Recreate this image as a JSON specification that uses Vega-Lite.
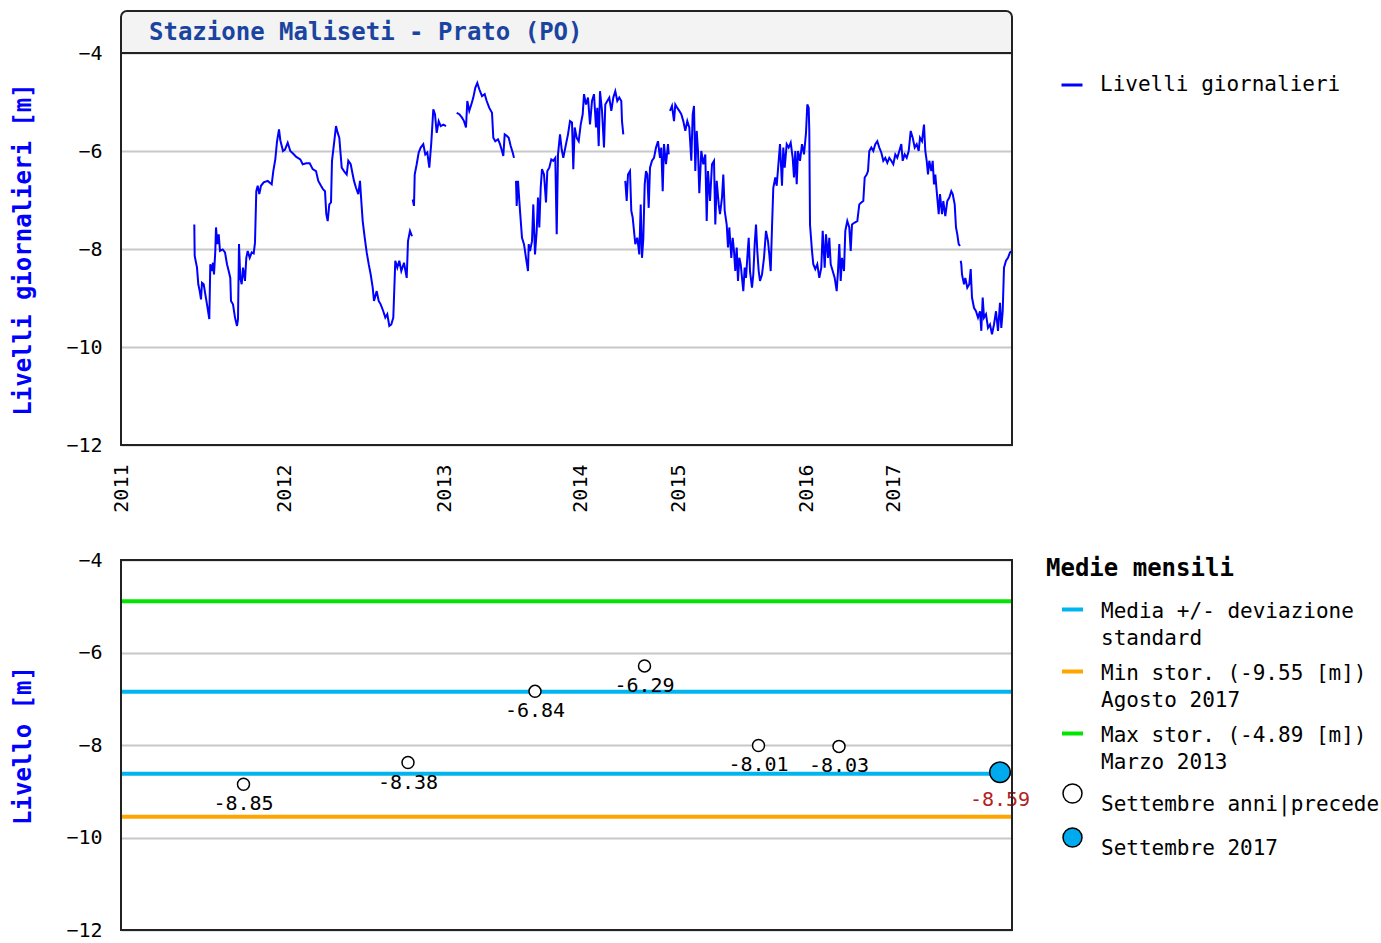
{
  "$schema": "https://vega.github.io/schema/vega-lite/v6.json",
  "background": "white",
  "padding": {"left": 11, "top": 10, "right": 5, "bottom": 5},
  "spacing": 37,
  "config": {"view": {"stroke": null}, "font": "DejaVu Sans Mono"},
  "resolve": {"scale": {"x": "independent", "y": "independent", "color": "independent", "fill": "independent"}, "legend": {"color": "independent", "fill": "independent"}},
  "datasets": {
    "serie": [
      {"i":73.3,"v":-7.5,"s":1},{"i":73.7,"v":-8.14,"s":1},{"i":76,"v":-8.38,"s":1},{"i":77.3,"v":-8.72,"s":1},{"i":78.7,"v":-8.86,"s":1},{"i":80,"v":-9.03,"s":1},{"i":81,"v":-8.69,"s":1},{"i":82.7,"v":-8.72,"s":1},{"i":84.3,"v":-8.92,"s":1},{"i":86,"v":-9.13,"s":1},{"i":88.3,"v":-9.43,"s":1},{"i":89.3,"v":-8.31,"s":1},{"i":90.7,"v":-8.45,"s":1},{"i":92,"v":-8.28,"s":1},{"i":93,"v":-8.52,"s":1},{"i":94.3,"v":-8.04,"s":1},{"i":95,"v":-7.56,"s":1},{"i":96.3,"v":-7.9,"s":1},{"i":97.7,"v":-7.7,"s":1},{"i":99,"v":-8.04,"s":1},{"i":101.7,"v":-8.01,"s":1},{"i":104,"v":-8.07,"s":1},{"i":106,"v":-8.31,"s":1},{"i":107.7,"v":-8.45,"s":1},{"i":109.3,"v":-8.59,"s":1},{"i":110,"v":-9.06,"s":1},{"i":112,"v":-9.13,"s":1},{"i":114,"v":-9.4,"s":1},{"i":116,"v":-9.57,"s":1},{"i":117,"v":-9.43,"s":1},{"i":118,"v":-7.9,"s":1},{"i":119.3,"v":-8.59,"s":1},{"i":120.7,"v":-8.72,"s":1},{"i":122,"v":-8.38,"s":1},{"i":124,"v":-8.65,"s":1},{"i":125.3,"v":-8.18,"s":1},{"i":126.7,"v":-8.04,"s":1},{"i":128.7,"v":-8.18,"s":1},{"i":130.7,"v":-8.07,"s":1},{"i":132.7,"v":-8.09,"s":1},{"i":134,"v":-7.87,"s":1},{"i":135.3,"v":-6.82,"s":1},{"i":136.7,"v":-6.71,"s":1},{"i":138.3,"v":-6.88,"s":1},{"i":140,"v":-6.71,"s":1},{"i":142.7,"v":-6.64,"s":1},{"i":146.7,"v":-6.61,"s":1},{"i":150.7,"v":-6.68,"s":1},{"i":152.3,"v":-6.41,"s":1},{"i":154.3,"v":-6.17,"s":1},{"i":156,"v":-5.81,"s":1},{"i":158,"v":-5.56,"s":1},{"i":159.3,"v":-5.78,"s":1},{"i":162,"v":-6.0,"s":1},{"i":164,"v":-5.97,"s":1},{"i":166.7,"v":-5.83,"s":1},{"i":169.3,"v":-6.0,"s":1},{"i":172,"v":-6.05,"s":1},{"i":175.3,"v":-6.12,"s":1},{"i":179.3,"v":-6.17,"s":1},{"i":181.7,"v":-6.27,"s":1},{"i":185.3,"v":-6.25,"s":1},{"i":188.7,"v":-6.25,"s":1},{"i":191.7,"v":-6.37,"s":1},{"i":195,"v":-6.41,"s":1},{"i":197.3,"v":-6.61,"s":1},{"i":200,"v":-6.71,"s":1},{"i":202,"v":-6.78,"s":1},{"i":204,"v":-6.82,"s":1},{"i":205.3,"v":-7.29,"s":1},{"i":206.7,"v":-7.43,"s":1},{"i":208.3,"v":-7.09,"s":1},{"i":210,"v":-7.05,"s":1},{"i":211,"v":-6.2,"s":1},{"i":213.3,"v":-5.8,"s":1},{"i":215,"v":-5.49,"s":1},{"i":216.7,"v":-5.63,"s":1},{"i":218.3,"v":-5.73,"s":1},{"i":220.7,"v":-6.34,"s":1},{"i":223,"v":-6.41,"s":1},{"i":225.7,"v":-6.48,"s":1},{"i":227.3,"v":-6.2,"s":1},{"i":229.7,"v":-6.27,"s":1},{"i":231.7,"v":-6.48,"s":1},{"i":233,"v":-6.61,"s":1},{"i":235,"v":-6.75,"s":1},{"i":237.3,"v":-6.88,"s":1},{"i":239,"v":-6.61,"s":1},{"i":240.3,"v":-7.02,"s":1},{"i":241.7,"v":-7.43,"s":1},{"i":243.7,"v":-7.77,"s":1},{"i":245.7,"v":-8.07,"s":1},{"i":247.7,"v":-8.31,"s":1},{"i":249.7,"v":-8.52,"s":1},{"i":251.7,"v":-8.79,"s":1},{"i":253,"v":-9.06,"s":1},{"i":255.7,"v":-8.86,"s":1},{"i":257.7,"v":-9.06,"s":1},{"i":259.7,"v":-9.13,"s":1},{"i":262.3,"v":-9.27,"s":1},{"i":264.3,"v":-9.4,"s":1},{"i":266.3,"v":-9.33,"s":1},{"i":268.3,"v":-9.57,"s":1},{"i":270.3,"v":-9.54,"s":1},{"i":272.3,"v":-9.4,"s":1},{"i":274.3,"v":-8.24,"s":1},{"i":276.3,"v":-8.38,"s":1},{"i":278.3,"v":-8.24,"s":1},{"i":280.3,"v":-8.45,"s":1},{"i":283,"v":-8.28,"s":1},{"i":285.7,"v":-8.59,"s":1},{"i":287,"v":-7.84,"s":1},{"i":289,"v":-7.63,"s":1},{"i":291,"v":-7.74,"s":1},
      {"i":291.7,"v":-6.99,"s":2},{"i":293,"v":-7.12,"s":2},{"i":293.7,"v":-6.48,"s":2},{"i":295.7,"v":-6.27,"s":2},{"i":297.7,"v":-6.03,"s":2},{"i":299.7,"v":-5.93,"s":2},{"i":302.3,"v":-5.86,"s":2},{"i":304.3,"v":-6.07,"s":2},{"i":306.3,"v":-6.03,"s":2},{"i":308.3,"v":-6.34,"s":2},{"i":310.3,"v":-5.83,"s":2},{"i":312.3,"v":-5.15,"s":2},{"i":314,"v":-5.25,"s":2},{"i":315.7,"v":-5.63,"s":2},{"i":317.7,"v":-5.39,"s":2},{"i":319.7,"v":-5.49,"s":2},{"i":322.3,"v":-5.46,"s":2},{"i":325,"v":-5.49,"s":2},
      {"i":335.7,"v":-5.22,"s":3},{"i":338.3,"v":-5.25,"s":3},{"i":341,"v":-5.32,"s":3},{"i":343,"v":-5.39,"s":3},{"i":345,"v":-5.52,"s":3},{"i":346.3,"v":-4.98,"s":3},{"i":348.3,"v":-5.18,"s":3},{"i":350.3,"v":-5.05,"s":3},{"i":352.3,"v":-4.91,"s":3},{"i":354.3,"v":-4.71,"s":3},{"i":356.3,"v":-4.61,"s":3},{"i":358.3,"v":-4.74,"s":3},{"i":361,"v":-4.88,"s":3},{"i":363.7,"v":-4.84,"s":3},{"i":365.7,"v":-4.98,"s":3},{"i":368.3,"v":-5.12,"s":3},{"i":371,"v":-5.22,"s":3},{"i":372.3,"v":-5.73,"s":3},{"i":374.3,"v":-5.8,"s":3},{"i":377,"v":-5.76,"s":3},{"i":379,"v":-5.86,"s":3},{"i":381,"v":-6.0,"s":3},{"i":382.3,"v":-6.1,"s":3},{"i":383.7,"v":-5.66,"s":3},{"i":385.7,"v":-5.69,"s":3},{"i":387.7,"v":-5.73,"s":3},{"i":389.7,"v":-5.9,"s":3},{"i":391.7,"v":-6.03,"s":3},{"i":393,"v":-6.14,"s":3},
      {"i":395,"v":-6.61,"s":4},{"i":395.7,"v":-7.12,"s":4},{"i":397,"v":-6.61,"s":4},{"i":399,"v":-7.22,"s":4},{"i":401,"v":-7.77,"s":4},{"i":403,"v":-7.9,"s":4},{"i":405,"v":-8.18,"s":4},{"i":407,"v":-8.45,"s":4},{"i":407.7,"v":-7.9,"s":4},{"i":409,"v":-8.04,"s":4},{"i":411,"v":-7.84,"s":4},{"i":412.3,"v":-7.09,"s":4},{"i":414,"v":-8.11,"s":4},{"i":415.7,"v":-7.63,"s":4},{"i":417,"v":-6.95,"s":4},{"i":418.3,"v":-7.56,"s":4},{"i":419.7,"v":-6.75,"s":4},{"i":421,"v":-6.37,"s":4},{"i":423,"v":-6.48,"s":4},{"i":425,"v":-7.05,"s":4},{"i":426.3,"v":-6.41,"s":4},{"i":428.3,"v":-6.34,"s":4},{"i":430.3,"v":-6.17,"s":4},{"i":432.3,"v":-6.2,"s":4},{"i":434.3,"v":-6.14,"s":4},{"i":435.7,"v":-7.7,"s":4},{"i":437,"v":-6.07,"s":4},{"i":439,"v":-5.66,"s":4},{"i":440.7,"v":-5.97,"s":4},{"i":442.3,"v":-6.14,"s":4},{"i":445,"v":-5.86,"s":4},{"i":447,"v":-5.66,"s":4},{"i":449,"v":-5.39,"s":4},{"i":451,"v":-5.42,"s":4},{"i":452.3,"v":-6.37,"s":4},{"i":453.7,"v":-5.52,"s":4},{"i":455.7,"v":-5.73,"s":4},{"i":457.7,"v":-5.8,"s":4},{"i":459.7,"v":-5.46,"s":4},{"i":461.7,"v":-5.25,"s":4},{"i":463,"v":-4.84,"s":4},{"i":465,"v":-5.05,"s":4},{"i":467,"v":-4.91,"s":4},{"i":469,"v":-5.46,"s":4},{"i":471,"v":-4.98,"s":4},{"i":473,"v":-4.84,"s":4},{"i":475,"v":-5.52,"s":4},{"i":476.3,"v":-5.12,"s":4},{"i":477.7,"v":-5.9,"s":4},{"i":479,"v":-4.78,"s":4},{"i":481,"v":-5.18,"s":4},{"i":483,"v":-5.93,"s":4},{"i":484.3,"v":-5.05,"s":4},{"i":486.3,"v":-4.98,"s":4},{"i":488.3,"v":-4.91,"s":4},{"i":490.3,"v":-5.18,"s":4},{"i":492.3,"v":-4.91,"s":4},{"i":494.3,"v":-4.78,"s":4},{"i":496.3,"v":-4.98,"s":4},{"i":498.3,"v":-4.91,"s":4},{"i":500.3,"v":-4.98,"s":4},{"i":501,"v":-5.39,"s":4},{"i":502.3,"v":-5.66,"s":4},
      {"i":504.3,"v":-6.61,"s":5},{"i":505.7,"v":-7.02,"s":5},{"i":507,"v":-6.48,"s":5},{"i":509,"v":-6.41,"s":5},{"i":510.3,"v":-7.22,"s":5},{"i":511.7,"v":-7.36,"s":5},{"i":513,"v":-7.63,"s":5},{"i":514.3,"v":-7.9,"s":5},{"i":516.3,"v":-7.77,"s":5},{"i":518.3,"v":-8.11,"s":5},{"i":519.7,"v":-7.09,"s":5},{"i":521,"v":-8.18,"s":5},{"i":522.3,"v":-7.8,"s":5},{"i":523.7,"v":-6.68,"s":5},{"i":525,"v":-6.41,"s":5},{"i":526.3,"v":-6.48,"s":5},{"i":527.7,"v":-7.16,"s":5},{"i":529,"v":-6.34,"s":5},{"i":531,"v":-6.2,"s":5},{"i":533,"v":-6.14,"s":5},{"i":535,"v":-5.93,"s":5},{"i":537,"v":-5.8,"s":5},{"i":539,"v":-6.14,"s":5},{"i":540.3,"v":-5.93,"s":5},{"i":541.7,"v":-6.82,"s":5},{"i":543,"v":-5.86,"s":5},{"i":545,"v":-6.27,"s":5},{"i":547,"v":-5.86,"s":5},{"i":547.7,"v":-6.07,"s":5},
      {"i":549,"v":-5.18,"s":6},{"i":551,"v":-5.08,"s":6},{"i":553,"v":-5.39,"s":6},{"i":554.3,"v":-5.05,"s":6},{"i":556.3,"v":-5.12,"s":6},{"i":558.3,"v":-5.18,"s":6},{"i":560.3,"v":-5.25,"s":6},{"i":562.3,"v":-5.39,"s":6},{"i":564.3,"v":-5.59,"s":6},{"i":566.3,"v":-5.39,"s":6},{"i":568.3,"v":-5.52,"s":6},{"i":570.3,"v":-6.2,"s":6},{"i":571.7,"v":-5.25,"s":6},{"i":573,"v":-5.08,"s":6},{"i":574.3,"v":-6.41,"s":6},{"i":575.7,"v":-5.59,"s":6},{"i":577,"v":-6.0,"s":6},{"i":578.3,"v":-6.86,"s":6},{"i":580.3,"v":-6.0,"s":6},{"i":582.3,"v":-6.27,"s":6},{"i":584.3,"v":-6.07,"s":6},{"i":585.7,"v":-7.43,"s":6},{"i":587,"v":-6.41,"s":6},{"i":589,"v":-7.02,"s":6},{"i":591,"v":-6.27,"s":6},{"i":593,"v":-6.2,"s":6},{"i":594.3,"v":-7.5,"s":6},{"i":595.7,"v":-6.61,"s":6},{"i":597.7,"v":-7.09,"s":6},{"i":599,"v":-7.29,"s":6},{"i":601,"v":-6.95,"s":6},{"i":602.3,"v":-6.48,"s":6},{"i":603.7,"v":-7.22,"s":6},{"i":605.7,"v":-7.5,"s":6},{"i":607,"v":-7.97,"s":6},{"i":608.3,"v":-7.56,"s":6},{"i":610.3,"v":-8.18,"s":6},{"i":611.7,"v":-7.77,"s":6},{"i":613,"v":-8.04,"s":6},{"i":614.3,"v":-8.45,"s":6},{"i":615.7,"v":-7.97,"s":6},{"i":617,"v":-8.65,"s":6},{"i":618.3,"v":-8.18,"s":6},{"i":619.7,"v":-8.31,"s":6},{"i":621,"v":-8.59,"s":6},{"i":622.3,"v":-8.86,"s":6},{"i":623.7,"v":-8.38,"s":6},{"i":625,"v":-8.59,"s":6},{"i":626.3,"v":-8.18,"s":6},{"i":627.7,"v":-7.77,"s":6},{"i":629,"v":-8.45,"s":6},{"i":631,"v":-8.79,"s":6},{"i":632.3,"v":-8.52,"s":6},{"i":633.7,"v":-7.9,"s":6},{"i":635,"v":-7.5,"s":6},{"i":636.3,"v":-8.04,"s":6},{"i":637.7,"v":-8.45,"s":6},{"i":639,"v":-8.65,"s":6},{"i":641,"v":-8.52,"s":6},{"i":643,"v":-8.18,"s":6},{"i":645,"v":-7.63,"s":6},{"i":647,"v":-7.84,"s":6},{"i":648.3,"v":-8.11,"s":6},{"i":649.7,"v":-8.45,"s":6},{"i":651,"v":-7.56,"s":6},{"i":652.3,"v":-6.75,"s":6},{"i":654.3,"v":-6.54,"s":6},{"i":655.7,"v":-6.71,"s":6},{"i":659,"v":-5.86,"s":6},{"i":661,"v":-6.71,"s":6},{"i":662.3,"v":-5.93,"s":6},{"i":663.7,"v":-6.34,"s":6},{"i":665.7,"v":-5.86,"s":6},{"i":667.7,"v":-5.93,"s":6},{"i":669.7,"v":-5.83,"s":6},{"i":671.7,"v":-6.14,"s":6},{"i":673,"v":-6.54,"s":6},{"i":674.3,"v":-6.0,"s":6},{"i":675.7,"v":-6.68,"s":6},{"i":677,"v":-6.0,"s":6},{"i":679,"v":-6.2,"s":6},{"i":681,"v":-5.86,"s":6},{"i":683,"v":-6.07,"s":6},{"i":685,"v":-5.63,"s":6},{"i":686.3,"v":-5.05,"s":6},{"i":687.7,"v":-5.12,"s":6},{"i":688.3,"v":-5.59,"s":6},{"i":689,"v":-7.5,"s":6},{"i":691,"v":-8.04,"s":6},{"i":692.3,"v":-8.31,"s":6},{"i":694.3,"v":-8.41,"s":6},{"i":696.3,"v":-8.31,"s":6},{"i":698.3,"v":-8.59,"s":6},{"i":700.3,"v":-8.38,"s":6},{"i":701.7,"v":-7.63,"s":6},{"i":703.7,"v":-8.38,"s":6},{"i":705,"v":-7.7,"s":6},{"i":707,"v":-8.18,"s":6},{"i":708.3,"v":-7.77,"s":6},{"i":709.7,"v":-8.31,"s":6},{"i":711.7,"v":-8.45,"s":6},{"i":713.7,"v":-8.59,"s":6},{"i":715.7,"v":-8.86,"s":6},{"i":717,"v":-8.45,"s":6},{"i":718.3,"v":-7.9,"s":6},{"i":719.7,"v":-8.65,"s":6},{"i":721,"v":-8.18,"s":6},{"i":723,"v":-8.45,"s":6},{"i":724.3,"v":-7.63,"s":6},{"i":726.3,"v":-7.43,"s":6},{"i":728.3,"v":-7.56,"s":6},{"i":729.7,"v":-8.04,"s":6},{"i":731,"v":-7.5,"s":6},{"i":733.7,"v":-7.46,"s":6},{"i":736.3,"v":-7.43,"s":6},{"i":738.3,"v":-7.09,"s":6},{"i":740.3,"v":-7.05,"s":6},{"i":742.3,"v":-7.02,"s":6},{"i":743.7,"v":-6.54,"s":6},{"i":745.7,"v":-6.48,"s":6},{"i":747,"v":-6.41,"s":6},{"i":748.3,"v":-6.0,"s":6},{"i":750.3,"v":-5.93,"s":6},{"i":752.3,"v":-6.0,"s":6},{"i":754.3,"v":-5.86,"s":6},{"i":756.3,"v":-5.8,"s":6},{"i":758.3,"v":-5.93,"s":6},{"i":760.3,"v":-6.03,"s":6},{"i":762.3,"v":-6.2,"s":6},{"i":764.3,"v":-6.14,"s":6},{"i":766.3,"v":-6.24,"s":6},{"i":768.3,"v":-6.14,"s":6},{"i":770.3,"v":-6.2,"s":6},{"i":772.3,"v":-6.27,"s":6},{"i":774.3,"v":-6.07,"s":6},{"i":776.3,"v":-6.14,"s":6},{"i":778.3,"v":-6.0,"s":6},{"i":780.3,"v":-5.86,"s":6},{"i":781.7,"v":-6.2,"s":6},{"i":783.7,"v":-6.07,"s":6},{"i":785.7,"v":-6.14,"s":6},{"i":787.7,"v":-6.0,"s":6},{"i":789.7,"v":-5.59,"s":6},{"i":791.7,"v":-5.73,"s":6},{"i":793.7,"v":-5.93,"s":6},{"i":795.7,"v":-5.86,"s":6},{"i":797.7,"v":-6.0,"s":6},{"i":799,"v":-5.73,"s":6},{"i":801,"v":-5.8,"s":6},{"i":803,"v":-5.46,"s":6},{"i":804.3,"v":-6.0,"s":6},{"i":805.7,"v":-6.2,"s":6},{"i":807,"v":-6.48,"s":6},{"i":808.3,"v":-6.2,"s":6},{"i":810.3,"v":-6.41,"s":6},{"i":811.7,"v":-6.2,"s":6},{"i":813,"v":-6.68,"s":6},{"i":814.3,"v":-6.48,"s":6},{"i":815.7,"v":-6.82,"s":6},{"i":817.7,"v":-7.29,"s":6},{"i":819,"v":-6.88,"s":6},{"i":821,"v":-7.29,"s":6},{"i":822.3,"v":-7.02,"s":6},{"i":824.3,"v":-7.33,"s":6},{"i":826.3,"v":-7.02,"s":6},{"i":828.3,"v":-6.95,"s":6},{"i":830.3,"v":-6.82,"s":6},{"i":831.7,"v":-6.88,"s":6},{"i":833.7,"v":-7.09,"s":6},{"i":835,"v":-7.56,"s":6},{"i":836.3,"v":-7.7,"s":6},{"i":837.7,"v":-7.9,"s":6},{"i":839,"v":-7.94,"s":6},
      {"i":839.7,"v":-8.24,"s":7},{"i":840.3,"v":-8.31,"s":7},{"i":841,"v":-8.52,"s":7},{"i":843,"v":-8.72,"s":7},{"i":844.3,"v":-8.59,"s":7},{"i":846.3,"v":-8.79,"s":7},{"i":848.3,"v":-8.72,"s":7},{"i":849.7,"v":-8.41,"s":7},{"i":851,"v":-8.99,"s":7},{"i":853,"v":-9.2,"s":7},{"i":855,"v":-9.27,"s":7},{"i":857,"v":-9.4,"s":7},{"i":859,"v":-9.27,"s":7},{"i":860.3,"v":-9.67,"s":7},{"i":861.7,"v":-8.99,"s":7},{"i":863,"v":-9.4,"s":7},{"i":865,"v":-9.33,"s":7},{"i":867,"v":-9.61,"s":7},{"i":869,"v":-9.54,"s":7},{"i":871,"v":-9.74,"s":7},{"i":873,"v":-9.54,"s":7},{"i":875,"v":-9.27,"s":7},{"i":877,"v":-9.67,"s":7},{"i":879,"v":-9.1,"s":7},{"i":880.3,"v":-9.61,"s":7},{"i":881.7,"v":-9.27,"s":7},{"i":883,"v":-8.38,"s":7},{"i":885,"v":-8.24,"s":7},{"i":887,"v":-8.18,"s":7},{"i":889,"v":-8.07,"s":7},{"i":891,"v":-8.04,"s":7}
    ],
    "linee": [
      {"v": -6.85, "serie": "Media +/- deviazione|standard"},
      {"v": -8.62, "serie": "Media +/- deviazione|standard"},
      {"v": -9.55, "serie": "Min stor. (-9.55 [m])|Agosto 2017"},
      {"v": -4.89, "serie": "Max stor. (-4.89 [m])|Marzo 2013"}
    ],
    "punti": [
      {"i": 122.5, "v": -8.85, "lab": "-8.85", "serie": "Settembre anni|precedenti"},
      {"i": 287, "v": -8.38, "lab": "-8.38", "serie": "Settembre anni|precedenti"},
      {"i": 414, "v": -6.84, "lab": "-6.84", "serie": "Settembre anni|precedenti"},
      {"i": 523.5, "v": -6.29, "lab": "-6.29", "serie": "Settembre anni|precedenti"},
      {"i": 637.5, "v": -8.01, "lab": "-8.01", "serie": "Settembre anni|precedenti"},
      {"i": 718, "v": -8.03, "lab": "-8.03", "serie": "Settembre anni|precedenti"},
      {"i": 879, "v": -8.59, "lab": "-8.59", "serie": "Settembre 2017"}
    ]
  },
  "vconcat": [
    {
      "width": 891,
      "height": 434,
      "layer": [
        {
          "data": {"name": "serie"},
          "mark": {"type": "line", "strokeWidth": 2},
          "encoding": {
            "x": {"field": "i", "type": "quantitative", "scale": {"domain": [0, 891], "nice": false, "zero": false},
              "axis": {"title": null, "values": [0, 163, 323, 459, 557, 685, 772], "labelExpr": "datum.value == 0 ? '2011' : datum.value == 163 ? '2012' : datum.value == 323 ? '2013' : datum.value == 459 ? '2014' : datum.value == 557 ? '2015' : datum.value == 685 ? '2016' : '2017'", "labelAngle": -90, "ticks": false, "domain": false, "grid": false, "labelFont": "DejaVu Sans Mono", "labelFontSize": 20, "labelColor": "#000", "labelPadding": 19, "labelFlush": false, "labelOverlap": false}},
            "y": {"field": "v", "type": "quantitative", "scale": {"domain": [-12, -3.142857], "nice": false, "zero": false},
              "axis": {"title": "Livelli giornalieri [m]", "titleY": 238, "values": [-12, -10, -8, -6, -4], "grid": true, "gridColor": "#c8c8c8", "gridWidth": 2, "ticks": false, "domain": false, "labelFont": "DejaVu Sans Mono", "labelFontSize": 20, "labelColor": "#000", "labelPadding": 19, "titleFont": "DejaVu Sans Mono", "titleFontSize": 24, "titleFontWeight": "bold", "titleColor": "#0000ff", "titlePadding": 30}},
            "detail": {"field": "s", "type": "nominal"},
            "color": {"datum": "Livelli giornalieri", "type": "nominal", "scale": {"range": ["#0000ff"]},
              "legend": {"title": null, "orient": "none", "legendX": 939, "legendY": 62, "symbolType": "stroke", "symbolSize": 441, "symbolStrokeWidth": 3, "labelFont": "DejaVu Sans Mono", "labelFontSize": 21, "labelColor": "#000", "labelOffset": 16, "labelLimit": 400, "padding": 0}}
          }
        },
        {
          "data": {"values": [{"t": "Stazione Maliseti - Prato (PO)"}]},
          "mark": {"type": "rect", "fill": "#f3f3f3", "stroke": "#222", "strokeWidth": 2, "cornerRadiusTopLeft": 6, "cornerRadiusTopRight": 6},
          "encoding": {
            "x": {"datum": 0, "type": "quantitative"},
            "x2": {"datum": 891},
            "y": {"datum": -4, "type": "quantitative"},
            "y2": {"datum": -3.142857}
          }
        },
        {
          "data": {"values": [{"t": "Stazione Maliseti - Prato (PO)"}]},
          "mark": {"type": "text", "align": "left", "baseline": "alphabetic", "dx": 28, "dy": -13, "font": "DejaVu Sans Mono", "fontSize": 24, "fontWeight": "bold", "color": "#1a44a0"},
          "encoding": {
            "x": {"datum": 0, "type": "quantitative"},
            "y": {"datum": -4, "type": "quantitative"},
            "text": {"field": "t"}
          }
        },
        {
          "data": {"values": [{"t": "frame"}]},
          "mark": {"type": "rect", "fillOpacity": 0, "fill": "#ffffff", "stroke": "#222", "strokeWidth": 2},
          "encoding": {
            "x": {"datum": 0, "type": "quantitative"},
            "x2": {"datum": 891},
            "y": {"datum": -12, "type": "quantitative"},
            "y2": {"datum": -4}
          }
        }
      ]
    },
    {
      "width": 891,
      "height": 370,
      "layer": [
        {
          "data": {"name": "linee"},
          "mark": {"type": "rule", "strokeWidth": 4},
          "encoding": {
            "y": {"field": "v", "type": "quantitative", "scale": {"domain": [-12, -4], "nice": false, "zero": false},
              "axis": {"title": "Livello [m]", "values": [-12, -10, -8, -6, -4], "grid": true, "gridColor": "#c8c8c8", "gridWidth": 2, "ticks": false, "domain": false, "labelFont": "DejaVu Sans Mono", "labelFontSize": 20, "labelColor": "#000", "labelPadding": 19, "titleFont": "DejaVu Sans Mono", "titleFontSize": 24, "titleFontWeight": "bold", "titleColor": "#0000ff", "titlePadding": 30}},
            "color": {"field": "serie", "type": "nominal",
              "scale": {"domain": ["Media +/- deviazione|standard", "Min stor. (-9.55 [m])|Agosto 2017", "Max stor. (-4.89 [m])|Marzo 2013"], "range": ["#00b4f0", "#ffa500", "#00e600"]},
              "legend": {"title": "Medie mensili", "orient": "none", "legendX": 925, "legendY": -3, "padding": 0,
                "titleFont": "DejaVu Sans Mono", "titleFontSize": 24, "titleFontWeight": "bold", "titleColor": "#000", "titlePadding": 16, "titleLimit": 400,
                "symbolType": "stroke", "symbolSize": 441, "symbolStrokeWidth": 4, "symbolOffset": 14,
                "labelFont": "DejaVu Sans Mono", "labelFontSize": 21, "labelColor": "#000", "labelOffset": 16, "labelLimit": 500, "labelBaseline": "top",
                "rowPadding": 10,
                "encode": {"labels": {"update": {"lineBreak": {"value": "|"}, "lineHeight": {"value": 27}, "dy": {"value": -9}}}}}}
          }
        },
        {
          "data": {"name": "punti"},
          "mark": {"type": "point", "shape": "circle", "filled": true, "opacity": 1, "stroke": "#000", "strokeWidth": 1.5},
          "encoding": {
            "x": {"field": "i", "type": "quantitative", "scale": {"domain": [0, 891], "nice": false, "zero": false}, "axis": null},
            "y": {"field": "v", "type": "quantitative"},
            "size": {"condition": {"test": "datum.serie == 'Settembre 2017'", "value": 420}, "value": 144},
            "fill": {"field": "serie", "type": "nominal",
              "scale": {"domain": ["Settembre anni|precedenti", "Settembre 2017"], "range": ["#ffffff", "#00aaee"]},
              "legend": {"title": null, "orient": "none", "legendX": 925, "legendY": 223, "padding": 0,
                "symbolType": "circle", "symbolSize": 361, "symbolStrokeWidth": 1.5, "symbolStrokeColor": "#000", "symbolOffset": 16,
                "labelFont": "DejaVu Sans Mono", "labelFontSize": 21, "labelColor": "#000", "labelOffset": 18, "labelLimit": 500, "labelBaseline": "top",
                "rowPadding": 10,
                "encode": {"labels": {"update": {"lineBreak": {"value": "|"}, "lineHeight": {"value": 27}, "dy": {"value": -9}}}}}}
          }
        },
        {
          "data": {"name": "punti"},
          "transform": [{"filter": "datum.serie != 'Settembre 2017'"}],
          "mark": {"type": "text", "baseline": "alphabetic", "align": "center", "dy": 26, "font": "DejaVu Sans Mono", "fontSize": 20, "color": "#000"},
          "encoding": {
            "x": {"field": "i", "type": "quantitative"},
            "y": {"field": "v", "type": "quantitative"},
            "text": {"field": "lab"}
          }
        },
        {
          "data": {"name": "punti"},
          "transform": [{"filter": "datum.serie == 'Settembre 2017'"}],
          "mark": {"type": "text", "baseline": "alphabetic", "align": "center", "dy": 34, "font": "DejaVu Sans Mono", "fontSize": 20, "color": "#b22222"},
          "encoding": {
            "x": {"field": "i", "type": "quantitative"},
            "y": {"field": "v", "type": "quantitative"},
            "text": {"field": "lab"}
          }
        },
        {
          "data": {"values": [{"t": "frame"}]},
          "mark": {"type": "rect", "fillOpacity": 0, "fill": "#ffffff", "stroke": "#222", "strokeWidth": 2},
          "encoding": {
            "x": {"datum": 0, "type": "quantitative"},
            "x2": {"datum": 891},
            "y": {"datum": -12, "type": "quantitative"},
            "y2": {"datum": -4}
          }
        }
      ]
    }
  ]
}
